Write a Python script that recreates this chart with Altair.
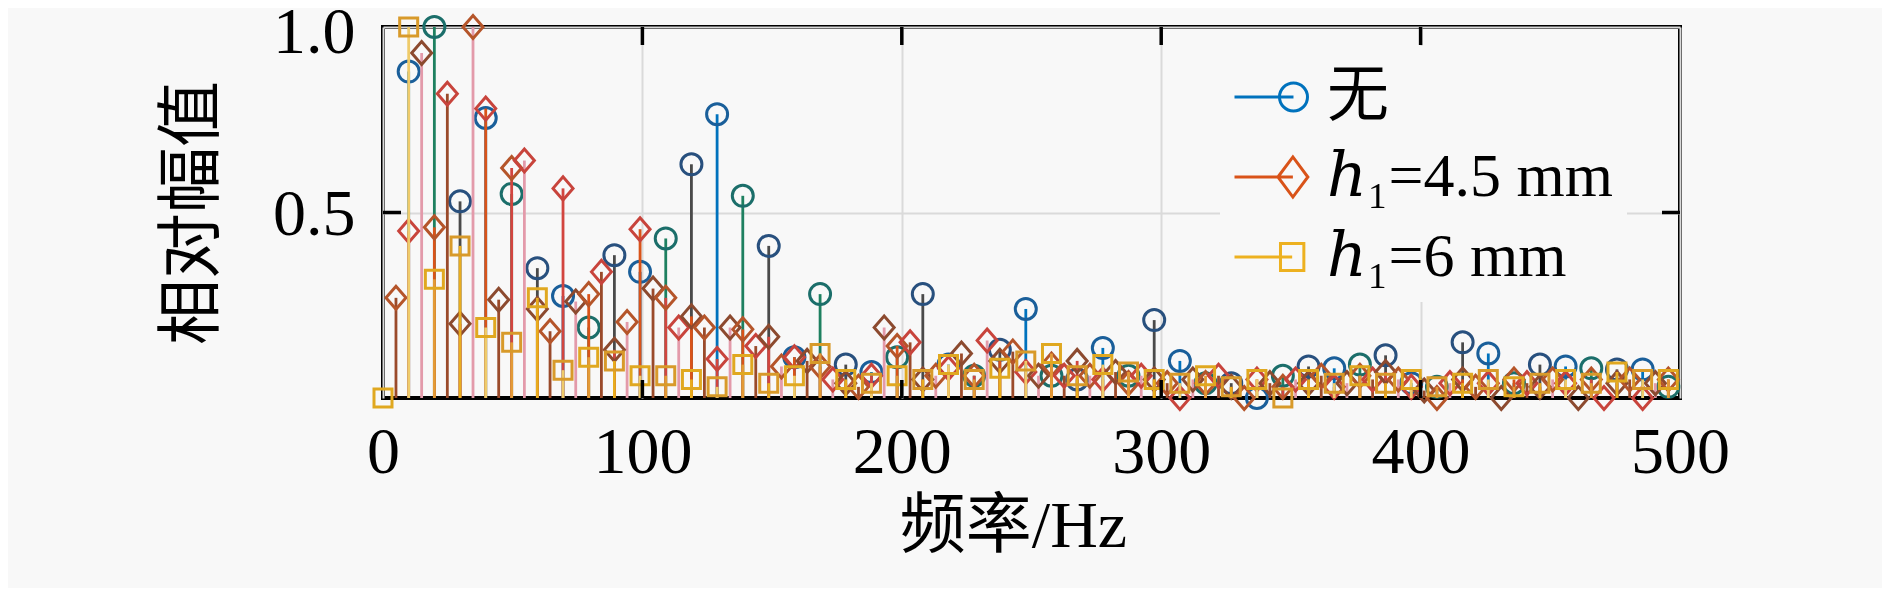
import altair as alt
import pandas as pd

# ---------------- data ----------------
series_names = ["无", "ℎ₁=4.5 mm", "ℎ₁=6 mm"]

f_none = [9.9, 19.8, 29.7, 39.6, 49.6, 59.5, 69.4, 79.3, 89.2, 99.1,
          109.0, 118.9, 128.8, 138.7, 148.7, 158.6, 168.5, 178.4, 188.3, 198.2,
          208.1, 218.0, 227.9, 237.8, 247.8, 257.7, 267.6, 277.5, 287.4, 297.3,
          307.2, 317.1, 327.0, 336.9, 346.9, 356.8, 366.7, 376.6, 386.5, 396.4,
          406.3, 416.2, 426.1, 436.0, 446.0, 455.9, 465.8, 475.7, 485.6, 495.5]
v_none = [0.88, 1.0, 0.53, 0.755, 0.55, 0.35, 0.275, 0.19, 0.385, 0.34,
          0.43, 0.63, 0.765, 0.545, 0.41, 0.11, 0.28, 0.09, 0.07, 0.11,
          0.28, 0.09, 0.06, 0.13, 0.24, 0.06, 0.05, 0.135, 0.06, 0.21,
          0.10, 0.04, 0.04, 0.0, 0.06, 0.085, 0.08, 0.09, 0.115, 0.04,
          0.03, 0.15, 0.12, 0.04, 0.09, 0.085, 0.08, 0.077, 0.077, 0.03]

f_h45 = [5.0, 9.9, 14.9, 19.8, 24.8, 29.7, 34.7, 39.6, 44.6, 49.6,
         54.5, 59.5, 64.4, 69.4, 74.3, 79.3, 84.2, 89.2, 94.1, 99.1,
         104.1, 109.0, 114.0, 118.9, 123.9, 128.8, 133.8, 138.7, 143.7, 148.7,
         153.6, 158.6, 163.5, 168.5, 173.4, 178.4, 183.3, 188.3, 193.2, 198.2,
         203.2, 208.1, 213.1, 218.0, 223.0, 227.9, 232.9, 237.8, 242.8, 247.8,
         252.7, 257.7, 262.6, 267.6, 272.5, 277.5, 282.4, 287.4, 292.3, 297.3,
         302.3, 307.2, 312.2, 317.1, 322.1, 327.0, 332.0, 336.9, 341.9, 346.9,
         351.8, 356.8, 361.7, 366.7, 371.6, 376.6, 381.5, 386.5, 391.4, 396.4,
         401.4, 406.3, 411.3, 416.2, 421.2, 426.1, 431.1, 436.0, 441.0, 446.0,
         450.9, 455.9, 460.8, 465.8, 470.7, 475.7, 480.6, 485.6, 490.5, 495.5]
v_h45 = [0.27, 0.45, 0.93, 0.46, 0.82, 0.20, 1.0, 0.78, 0.265, 0.62,
         0.64, 0.24, 0.18, 0.565, 0.26, 0.28, 0.34, 0.13, 0.205, 0.455,
         0.295, 0.27, 0.19, 0.22, 0.19, 0.105, 0.19, 0.185, 0.14, 0.165,
         0.085, 0.11, 0.10, 0.085, 0.05, 0.04, 0.03, 0.06, 0.19, 0.14,
         0.15, 0.05, 0.06, 0.08, 0.12, 0.06, 0.155, 0.10, 0.125, 0.07,
         0.06, 0.09, 0.06, 0.10, 0.06, 0.05, 0.07, 0.04, 0.06, 0.05,
         0.04, 0.0, 0.05, 0.04, 0.06, 0.03, 0.0, 0.05, 0.04, 0.03,
         0.05, 0.04, 0.06, 0.03, 0.04, 0.06, 0.05, 0.07, 0.05, 0.03,
         0.02, 0.0, 0.04, 0.05, 0.03, 0.04, 0.0, 0.05, 0.04, 0.03,
         0.05, 0.04, 0.0, 0.05, 0.0, 0.04, 0.05, 0.0, 0.04, 0.05]

f_h6 = [0.0, 9.9, 19.8, 29.7, 39.6, 49.6, 59.5, 69.4, 79.3, 89.2, 99.1,
        109.0, 118.9, 128.8, 138.7, 148.7, 158.6, 168.5, 178.4, 188.3, 198.2,
        208.1, 218.0, 227.9, 237.8, 247.8, 257.7, 267.6, 277.5, 287.4, 297.3,
        307.2, 317.1, 327.0, 336.9, 346.9, 356.8, 366.7, 376.6, 386.5, 396.4,
        406.3, 416.2, 426.1, 436.0, 446.0, 455.9, 465.8, 475.7, 485.6, 495.5]
v_h6 = [0.0, 1.0, 0.32, 0.41, 0.19, 0.15, 0.27, 0.075, 0.11, 0.10, 0.06,
        0.06, 0.05, 0.03, 0.09, 0.04, 0.06, 0.12, 0.05, 0.04, 0.06,
        0.05, 0.09, 0.05, 0.08, 0.10, 0.12, 0.06, 0.09, 0.07, 0.05,
        0.04, 0.06, 0.03, 0.05, 0.0, 0.05, 0.04, 0.06, 0.04, 0.05,
        0.03, 0.04, 0.05, 0.03, 0.04, 0.05, 0.04, 0.07, 0.05, 0.05]

x_ticks = [0, 100, 200, 300, 400, 500]
y_ticks = [0.5, 1.0]
inner_x_ticks = [100, 200, 300, 400]
inner_y_ticks = [0.5]

# ---------------- styles ----------------
W, H = 1297, 371
BG = "#f8f8f8"
FONT = "'Liberation Serif', 'Times New Roman', 'Noto Sans CJK SC', 'DejaVu Serif', serif"
TICK_LEN = 18

legend_colors = ["#0072BD", "#D95319", "#EDB120"]
legend_paths = [
    "M-1,0L0.616,0M1,0A0.384,0.384,0,1,1,0.232,0A0.384,0.384,0,1,1,1,0",
    "M-1,0L0.6,0M0.19,0L0.6,-0.55L1.01,0L0.6,0.55Z",
    "M-1,0L0.58,0M0.26,-0.37L0.9,-0.37L0.9,0.37L0.26,0.37Z",
]
stem_palettes = [
    ["#0072BD", "#1E8060", "#4A4A4A"],
    ["#9A4A2A", "#D2453F", "#E39AAA", "#D95319"],
    ["#E8AC1E", "#EFCB6A", "#E39A36"],
]
marker_palettes = [
    ["#1A5F9A", "#1B6E6A", "#28507E"],
    ["#B5552A", "#C8443C", "#8C4A2F"],
    ["#E0A820", "#D89A2A"],
]
marker_shapes = ["circle", "M-1,0L0,-1.15L1,0L0,1.15Z", "square"]
marker_sizes = [441, 400, 324]

rows = []
for sid, (fs, vs) in enumerate([(f_none, v_none), (f_h45, v_h45), (f_h6, v_h6)]):
    for k, (f, v) in enumerate(zip(fs, vs)):
        rows.append({"series": series_names[sid], "sid": sid, "k": k, "f": f, "v": v})
df = pd.DataFrame(rows)


def pal_expr(pal):
    arr = "[" + ",".join("'%s'" % c for c in pal) + "]"
    return "%s[datum.k %% %d]" % (arr, len(pal))


xscale = alt.Scale(domain=[0, 500], nice=False, zero=False)
yscale = alt.Scale(domain=[0, 1], nice=False, zero=False)

x_axis = alt.Axis(values=x_ticks, format="d", ticks=False, tickSize=0, domain=False,
                  grid=True, gridColor="#dadada", gridWidth=2,
                  labelFontSize=66, labelPadding=22, labelFlush=False,
                  title="频率/Hz", titleFontSize=66, titleX=630, titleY=128,
                  titleAlign="center", titleBaseline="middle")
y_axis = alt.Axis(values=y_ticks, format=".1f", ticks=False, tickSize=0, domain=False,
                  grid=True, gridColor="#dadada", gridWidth=2,
                  labelFontSize=66, labelPadding=28, labelFlush=False,
                  labelOffset={"condition": {"test": "datum.value >= 0.99", "value": 5}, "value": 2},
                  title="相对幅值", titleFontSize=66, titleX=-191, titleY=H / 2,
                  titleAngle=270, titleAlign="center", titleBaseline="middle")

X = alt.X("f:Q", scale=xscale, axis=x_axis)
Y = alt.Y("v:Q", scale=yscale, axis=y_axis)

layers = []
for sid in range(3):
    sub = alt.Chart(df).transform_filter("datum.sid == %d" % sid)
    stems = sub.transform_calculate(
        sc=pal_expr(stem_palettes[sid]), z="0"
    ).mark_rule(strokeWidth=2.8).encode(
        x=X, y=Y, y2=alt.Y2("z:Q"), color=alt.Color("sc:N", scale=None)
    )
    pts = sub.transform_calculate(
        mc=pal_expr(marker_palettes[sid])
    ).mark_point(filled=False, strokeWidth=3, shape=marker_shapes[sid],
                 size=marker_sizes[sid], opacity=1).encode(
        x=X, y=Y, color=alt.Color("mc:N", scale=None)
    )
    layers += [stems, pts]

xt = pd.DataFrame({"t": inner_x_ticks})
yt = pd.DataFrame({"t": inner_y_ticks})
XT = alt.X("t:Q", scale=xscale, axis=x_axis)
YT = alt.Y("t:Q", scale=yscale, axis=y_axis)
tick_top = alt.Chart(xt).mark_rule(color="black", strokeWidth=3.5).encode(
    x=XT, y=alt.value(0), y2=alt.value(TICK_LEN))
tick_bottom = alt.Chart(xt).mark_rule(color="black", strokeWidth=3.5).encode(
    x=XT, y=alt.value(H), y2=alt.value(H - TICK_LEN))
tick_left = alt.Chart(yt).mark_rule(color="black", strokeWidth=3.5).encode(
    y=YT, x=alt.value(0), x2=alt.value(TICK_LEN))
tick_right = alt.Chart(yt).mark_rule(color="black", strokeWidth=3.5).encode(
    y=YT, x=alt.value(W - TICK_LEN), x2=alt.value(W))

leg = alt.Legend(title=None, orient="none", legendX=837, legendY=19)
legend_layer = alt.Chart(df).mark_point(opacity=0, filled=False, strokeWidth=3).encode(
    x=X, y=Y,
    shape=alt.Shape("series:N", scale=alt.Scale(domain=series_names, range=legend_paths), legend=leg),
    stroke=alt.Stroke("series:N", scale=alt.Scale(domain=series_names, range=legend_colors), legend=leg),
)

chart = alt.layer(*layers, tick_top, tick_bottom, tick_left, tick_right, legend_layer).properties(
    width=W, height=H,
    autosize=alt.AutoSizeParams(type="none"),
    padding={"left": 375, "top": 19, "right": 202, "bottom": 190},
    background=BG,
).configure_view(
    stroke="black", strokeWidth=4
).configure_axis(
    labelFont=FONT, titleFont=FONT, labelColor="black", titleColor="black",
    titleFontWeight="normal"
).configure_legend(
    labelFont=FONT, labelFontSize=62, labelColor="black", labelLimit=1000,
    labelOffset=18, symbolSize=5329, symbolStrokeWidth=3, symbolOpacity=1,
    rowPadding=11, padding=13, fillColor=BG, strokeColor=BG
)

chart.save("out.html", embed_options={"renderer": "svg", "actions": False})
